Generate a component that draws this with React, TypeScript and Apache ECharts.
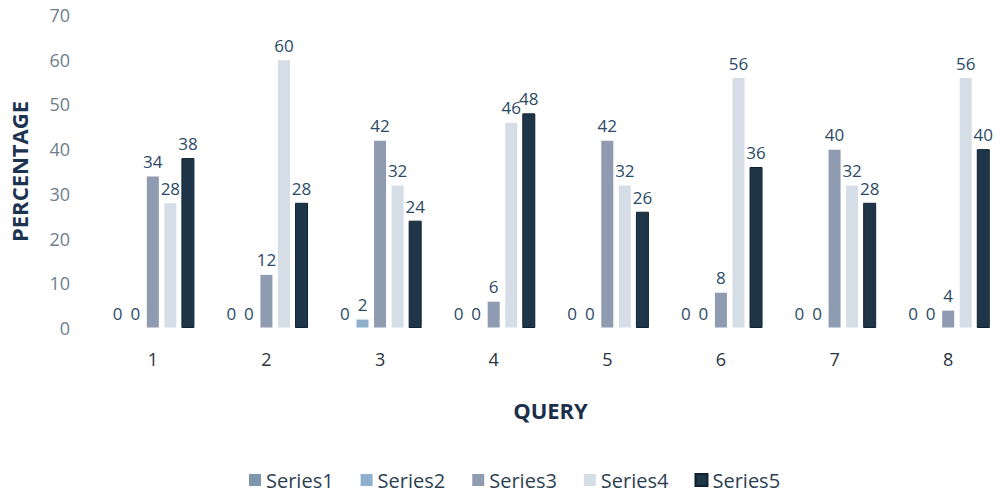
import React, { useEffect, useRef } from "react";
import * as echarts from "echarts";

const categories = ["1", "2", "3", "4", "5", "6", "7", "8"];
const series1 = [0, 0, 0, 0, 0, 0, 0, 0];
const series2 = [0, 0, 2, 0, 0, 0, 0, 0];
const series3 = [34, 12, 42, 6, 42, 8, 40, 4];
const series4 = [28, 60, 32, 46, 32, 56, 32, 56];
const series5 = [38, 28, 24, 48, 26, 36, 28, 40];
const seriesNames = ["Series1", "Series2", "Series3", "Series4", "Series5"];
const colors = ["#7f97ad", "#8fb0cc", "#8f9bb0", "#d5dde6", "#1f3649"];

export default function App() {
  const ref = useRef<HTMLDivElement>(null);
  useEffect(() => {
    if (!ref.current) return;
    const chart = echarts.init(ref.current, undefined, { renderer: "svg" });
    const data = [series1, series2, series3, series4, series5];
    chart.setOption({
      animation: false,
      backgroundColor: "#ffffff",
      textStyle: { fontFamily: "Open Sans" },
      grid: { left: 94, top: 15, right: -11, bottom: 171 },
      legend: {
        top: 465,
        left: 243,
        itemWidth: 12,
        itemHeight: 12,
        itemGap: 26,
        icon: "rect",
        textStyle: { fontSize: 20, color: "#2c3f52", fontFamily: "Open Sans" },
        data: seriesNames,
      },
      xAxis: {
        type: "category",
        data: categories,
        name: "QUERY",
        nameLocation: "middle",
        nameGap: 71,
        nameTextStyle: { fontSize: 22, fontWeight: "bold", color: "#1c2f4a" },
        axisLine: { show: false },
        axisTick: { show: false },
        axisLabel: { fontSize: 18, color: "#2a3440", margin: 22 },
      },
      yAxis: {
        type: "value",
        min: 0,
        max: 70,
        interval: 10,
        name: "PERCENTAGE",
        nameLocation: "middle",
        nameGap: 66,
        nameTextStyle: { fontSize: 22, fontWeight: "bold", color: "#1c3450" },
        axisLine: { show: false },
        axisTick: { show: false },
        splitLine: { show: false },
        axisLabel: { fontSize: 18, color: "#6f7e8d", margin: 26 },
      },
      series: seriesNames.map((n, i) => ({
        name: n,
        type: "bar",
        data: data[i],
        barWidth: 13,
        barGap: "35%",
        itemStyle: { color: colors[i], borderColor: i === 4 ? "#0f2233" : "rgba(0,0,0,0)", borderWidth: 1 },
        label: {
          show: true,
          position: "top",
          distance: 6,
          fontSize: 17,
          color: "#2b4a67",
        },
      })),
    });
    return () => chart.dispose();
  }, []);
  return (
    <div
      ref={ref}
      style={{ position: "absolute", left: 0, top: 0, width: 1005, height: 499, overflow: "hidden" }}
    />
  );
}
